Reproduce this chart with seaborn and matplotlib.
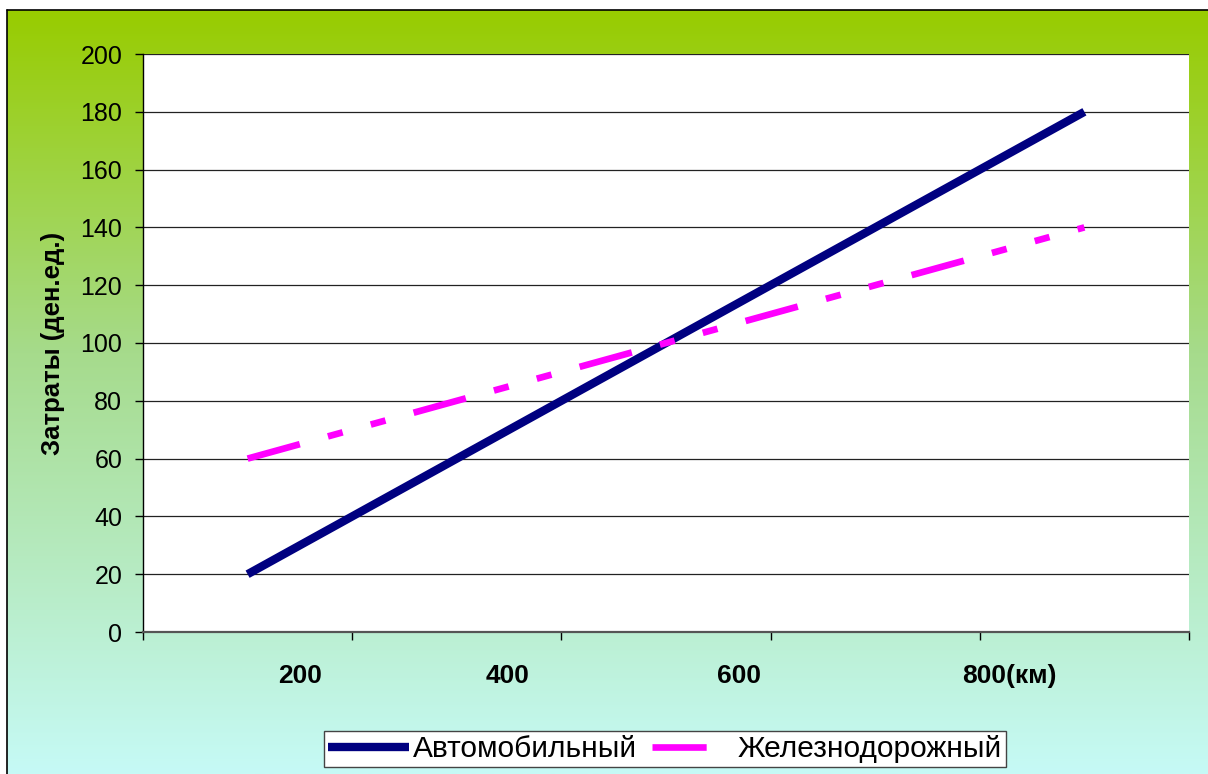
import numpy as np
import pandas as pd
import matplotlib
matplotlib.use('Agg')
import matplotlib.pyplot as plt
import seaborn as sns
from matplotlib.colors import LinearSegmentedColormap
from matplotlib.lines import Line2D

# data
categories = [0, 1, 2, 3, 4]
auto_cost = [20, 60, 100, 140, 180]
rail_cost = [60, 80, 100, 120, 140]
x_labels = ['200', '400', '600', '800(км)']
x_label_pos = [0.25, 1.245, 2.35, 3.64]
y_ticks = list(range(0, 201, 20))

sns.set_theme(style='white')
plt.rcParams['font.family'] = ['Liberation Sans', 'DejaVu Sans']
plt.rcParams['lines.scale_dashes'] = False
plt.rcParams['text.color'] = 'black'
plt.rcParams['axes.labelcolor'] = 'black'
plt.rcParams['xtick.color'] = 'black'
plt.rcParams['ytick.color'] = 'black'

W, H = 1208, 774
fig = plt.figure(figsize=(W / 100, H / 100), dpi=100)
fig.patch.set_facecolor('white')

# gradient background of the chart area
bg = fig.add_axes([7 / W, 0, 1 - 7 / W, 1 - 10 / H], zorder=0)
grad_cmap = LinearSegmentedColormap.from_list(
    'bg', [(0.0, (152/255, 204/255, 0/255)),
           (0.45, (166/255, 219/255, 140/255)),
           (1.0, (198/255, 250/255, 246/255))])
grad = np.linspace(0, 1, 256).reshape(-1, 1)
bg.imshow(grad, aspect='auto', cmap=grad_cmap, extent=[0, 1, 1, 0])
bg.set_axis_off()

# border (left and top visible)
fig.add_artist(Line2D([7 / W, 7 / W], [0, 1 - 10 / H], color='black', lw=1.2))
fig.add_artist(Line2D([7 / W, 1], [1 - 10 / H, 1 - 10 / H], color='black', lw=1.2))

ax = fig.add_axes([143 / W, 1 - 632 / H, (1189 - 143) / W, (632 - 54) / H], zorder=1)
ax.set_facecolor('white')

df = pd.DataFrame({'x': categories, 'auto': auto_cost, 'rail': rail_cost})
sns.lineplot(data=df, x='x', y='auto', ax=ax, color='#000080', linewidth=6,
             label='Автомобильный', solid_capstyle='butt')
sns.lineplot(data=df, x='x', y='rail', ax=ax, color='#FF00FF', linewidth=4.8,
             label='Железнодорожный')
rail_line = ax.get_lines()[1]
rail_line.set_dashes([39, 21, 11, 21, 11, 21])
rail_line.set_dash_capstyle('butt')

ax.set_xlim(-0.5, 4.5)
ax.set_ylim(0, 200)
ax.set_yticks(y_ticks)
ax.set_yticklabels([str(v) for v in y_ticks], fontsize=18)
ax.yaxis.grid(True, color='#222222', linewidth=0.9)
ax.set_axisbelow(True)

ax.set_xticks(np.arange(-0.5, 5, 1))
ax.set_xticklabels([])
ax.set_xticks(x_label_pos, minor=True)
ax.set_xticklabels(x_labels, minor=True, fontsize=19, fontweight='bold')
ax.tick_params(axis='x', which='major', direction='out', length=6, width=1, color='black', bottom=True)
ax.tick_params(axis='x', which='minor', length=0, pad=23, bottom=True)
ax.tick_params(axis='y', direction='out', length=6, width=1, color='black', pad=9, left=True)

ax.set_xlabel('')
ax.set_ylabel('Затраты (ден.ед.)', fontsize=18.5, fontweight='bold')
ax.yaxis.set_label_coords(-0.075, 0.5)

for s in ['top', 'right']:
    ax.spines[s].set_visible(False)
ax.spines['left'].set_color('black')
ax.spines['left'].set_linewidth(1)
ax.spines['bottom'].set_color('#555555')
ax.spines['bottom'].set_linewidth(1.6)

ax.legend_.remove()
leg = fig.legend(handles=ax.get_lines()[:2], labels=['Автомобильный', 'Железнодорожный'],
                 loc='center', bbox_to_anchor=(665 / W, 1 - 749 / H), ncol=2,
                 fontsize=21.5, frameon=True, fancybox=False, edgecolor='#444444',
                 framealpha=1, handlelength=2.7, handletextpad=0.15,
                 columnspacing=0.5, borderpad=0.15, borderaxespad=0)
leg.get_frame().set_linewidth(1)

fig.savefig('out.png', dpi=100)
